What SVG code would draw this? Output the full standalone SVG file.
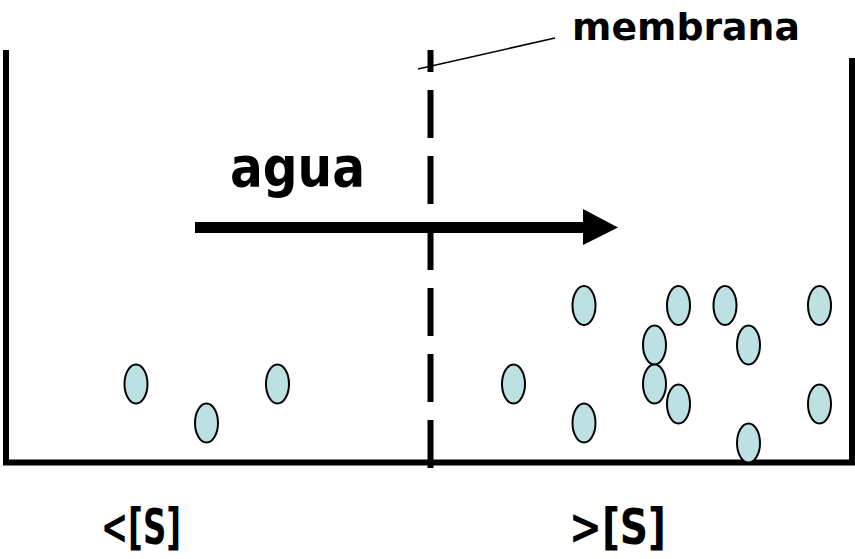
<svg xmlns="http://www.w3.org/2000/svg" width="855" height="559" viewBox="0 0 855 559">
  <style>
    .wall { stroke: #000; stroke-width: 6; fill: none; }
    .membrane { stroke: #000; stroke-width: 6; fill: none; stroke-dasharray: 48 18; stroke-dashoffset: 26; }
    .solute { fill: #BDE1E3; stroke: #000; stroke-width: 2; }
    .label { font-family: "Comic Sans MS", "DejaVu Sans", sans-serif; font-weight: bold; fill: #000; }
  </style>
  <defs>
    <ellipse id="particle" class="solute" cx="0" cy="0" rx="11.5" ry="19.5"/>
  </defs>
  <rect width="855" height="559" fill="#fff"/>

  <!-- container -->
  <g id="container">
    <polyline class="wall" points="6,50 6,462.5 855,462.5"/>
    <line class="wall" x1="852" y1="58" x2="852" y2="462.5" stroke-width="5"/>
  </g>

  <!-- semipermeable membrane -->
  <g id="membrane">
    <line class="membrane" x1="430.5" y1="50" x2="430.5" y2="468"/>
  </g>

  <!-- leader line and label -->
  <g id="connectors">
    <line x1="418" y1="69" x2="555" y2="38" stroke="#000" stroke-width="1.5"/>
  </g>
  <g id="membrane-label">
    <text class="label" x="572" y="40" font-size="38" textLength="228" lengthAdjust="spacingAndGlyphs">membrana</text>
  </g>

  <!-- water flow -->
  <g id="water-flow">
    <rect x="195" y="222" width="390" height="11" fill="#000"/>
    <polygon points="583,209 618,227.5 583,245" fill="#000"/>
    <text class="label" x="230" y="186" font-size="56" textLength="135" lengthAdjust="spacingAndGlyphs">agua</text>
  </g>

  <!-- solute particles, low concentration side -->
  <g id="solute-left">
    <use href="#particle" x="136" y="384"/>
    <use href="#particle" x="206.5" y="423"/>
    <use href="#particle" x="277.5" y="384"/>
  </g>

  <!-- solute particles, high concentration side -->
  <g id="solute-right">
    <use href="#particle" x="584" y="305.5"/>
    <use href="#particle" x="678.5" y="305.5"/>
    <use href="#particle" x="725" y="305.5"/>
    <use href="#particle" x="819.5" y="305.5"/>
    <use href="#particle" x="654.5" y="345"/>
    <use href="#particle" x="748.5" y="345"/>
    <use href="#particle" x="513.5" y="384"/>
    <use href="#particle" x="654.5" y="384"/>
    <use href="#particle" x="678.5" y="404"/>
    <use href="#particle" x="819.5" y="404"/>
    <use href="#particle" x="584" y="423"/>
    <use href="#particle" x="748.5" y="443"/>
  </g>

  <!-- concentration labels -->
  <g id="label-low">
    <text class="label" x="101" y="544" font-size="50" textLength="80" lengthAdjust="spacingAndGlyphs">&lt;[S]</text>
  </g>
  <g id="label-high">
    <text class="label" x="569" y="544" font-size="50" textLength="97" lengthAdjust="spacingAndGlyphs">&gt;[S]</text>
  </g>
</svg>
